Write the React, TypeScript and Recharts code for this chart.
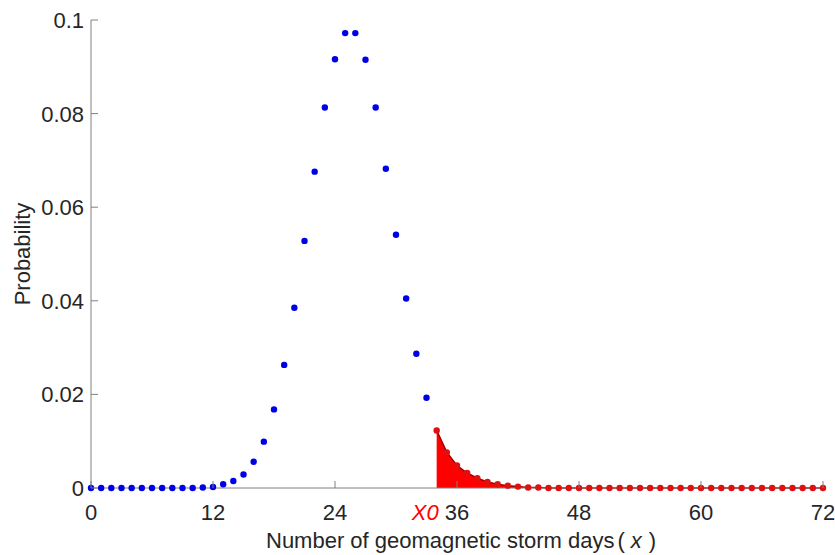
import React from "react";
import { ComposedChart, XAxis, YAxis, Line, Area, Label } from "recharts";

const blueX = [0,1,2,3,4,5,6,7,8,9,10,11,12,13,14,15,16,17,18,19,20,21,22,23,24,25,26,27,28,29,30,31,32,33];
const blueP = [0,0,0,0,0,0,0,0,0,0,0,0.0001,0.0002,0.0008,0.0015,0.0029,0.0056,0.0099,0.0168,0.0263,0.0385,0.0528,0.0676,0.0813,0.0916,0.0972,0.0972,0.0915,0.0813,0.0682,0.0541,0.0405,0.0287,0.0193];
const redX = [34,35,36,37,38,39,40,41,42,43,44,45,46,47,48,49,50,51,52,53,54,55,56,57,58,59,60,61,62,63,64,65,66,67,68,69,70,71,72];
const redP = [0.0123,0.0076,0.0048,0.0032,0.0021,0.0013,0.0008,0.0005,0.0003,0.0001,0.0001,0,0,0,0,0,0,0,0,0,0,0,0,0,0,0,0,0,0,0,0,0,0,0,0,0,0,0,0];

const xTicks = [0, 12, 24, 34, 36, 48, 60, 72];
const xTickLabels: Record<number, string> = { 0: "0", 12: "12", 24: "24", 34: "X0", 36: "36", 48: "48", 60: "60", 72: "72" };
const yTicks = [0, 0.02, 0.04, 0.06, 0.08, 0.1];
const yTickLabels = ["0", "0.02", "0.04", "0.06", "0.08", "0.1"];

const data = [
  ...blueX.map((x, i) => ({ x, blue: blueP[i] })),
  ...redX.map((x, i) => ({ x, red: redP[i] })),
];

const FONT = "'Liberation Sans', Arial, sans-serif";
const AXIS = "#808080";
const TXT = "#262626";

const XTick = (props: any) => {
  const { x, y, payload } = props;
  const v = payload.value;
  if (v === 34) {
    return (
      <g>
        <text x={x + 2} y={y + 32} textAnchor="end" fontSize={22} fontStyle="italic" fill="#ff0000" fontFamily={FONT}>
          {xTickLabels[v]}
        </text>
      </g>
    );
  }
  return (
    <g>
      <line x1={x} y1={y} x2={x} y2={y - 7} stroke={AXIS} strokeWidth={1} />
      <text x={x} y={y + 32} textAnchor="middle" fontSize={22} fill={TXT} fontFamily={FONT}>
        {xTickLabels[v]}
      </text>
    </g>
  );
};

const YTick = (props: any) => {
  const { x, y, payload, index } = props;
  return (
    <g>
      <line x1={x} y1={y} x2={x + 7} y2={y} stroke={AXIS} strokeWidth={1} />
      <text x={x - 7} y={y} dy="0.36em" textAnchor="end" fontSize={22} fill={TXT} fontFamily={FONT}>
        {yTickLabels[yTicks.indexOf(payload.value)] ?? yTickLabels[index]}
      </text>
    </g>
  );
};

export default function App() {
  return (
    <div style={{ position: "absolute", left: 0, top: 0, background: "#fff" }}>
      <ComposedChart
        width={835}
        height={555}
        data={data}
        margin={{ top: 20, right: 12, left: 0, bottom: 0 }}
      >
        <XAxis
          dataKey="x"
          type="number"
          domain={[0, 72]}
          ticks={xTicks}
          interval={0}
          tickLine={false}
          tickSize={0}
          tickMargin={0}
          height={67}
          stroke={AXIS}
          tick={<XTick />}
        >
          <Label
            content={() => (
              <text x={266} y={548} textAnchor="start" fontSize={22} fill={TXT} fontFamily={FONT}>
                Number of geomagnetic storm days
                <tspan dx={3}>(</tspan>
                <tspan dx={6} fontStyle="italic">x</tspan>
                <tspan dx={7}>)</tspan>
              </text>
            )}
          />
        </XAxis>
        <YAxis
          type="number"
          domain={[0, 0.1]}
          ticks={yTicks}
          interval={0}
          width={91}
          tickLine={false}
          tickSize={0}
          tickMargin={0}
          stroke={AXIS}
          tick={<YTick />}
        >
          <Label
            content={() => (
              <text transform="translate(30,254) rotate(-90)" textAnchor="middle" fontSize={22} fill={TXT} fontFamily={FONT}>
                Probability
              </text>
            )}
          />
        </YAxis>
        <Area
          dataKey="red"
          type="linear"
          fill="#ff0000"
          fillOpacity={1}
          stroke="#a00000"
          strokeWidth={1.5}
          baseValue={0}
          connectNulls={false}
          dot={{ r: 3.2, fill: "#e01010", stroke: "none" }}
          activeDot={false}
          isAnimationActive={false}
        />
        <Line
          dataKey="blue"
          type="linear"
          stroke="none"
          dot={{ r: 3.2, fill: "#0000e6", stroke: "none" }}
          activeDot={false}
          isAnimationActive={false}
        />
      </ComposedChart>
    </div>
  );
}
